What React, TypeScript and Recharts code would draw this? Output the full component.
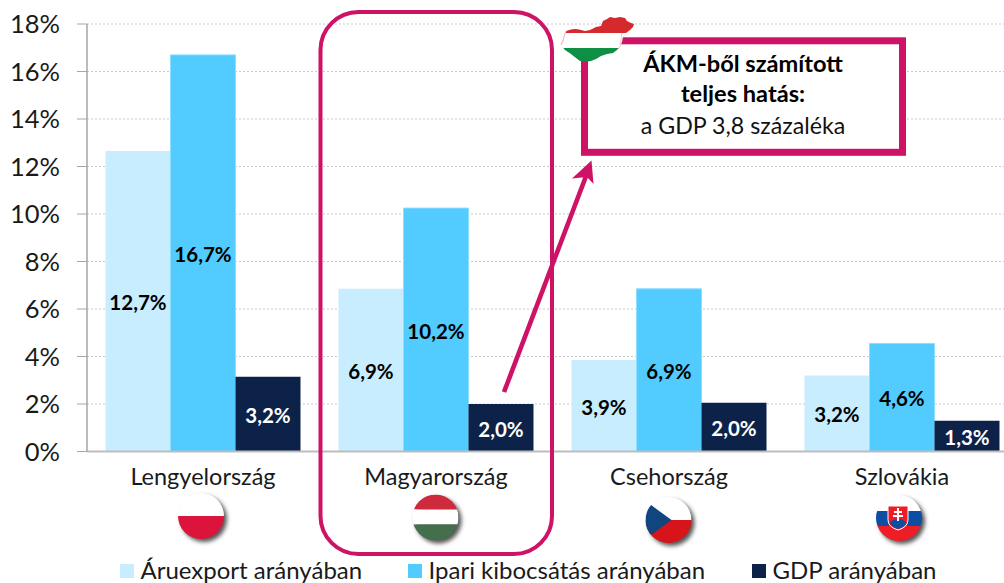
import React from "react";
import { BarChart, Bar, XAxis, YAxis, CartesianGrid, Legend, LabelList } from "recharts";

const countries = ["Lengyelország", "Magyarország", "Csehország", "Szlovákia"];
const exportShare = [12.65, 6.85, 3.85, 3.2];
const outputShare = [16.7, 10.25, 6.85, 4.55];
const gdpShare = [3.15, 2.0, 2.05, 1.3];
const exportLabels = ["12,7%", "6,9%", "3,9%", "3,2%"];
const outputLabels = ["16,7%", "10,2%", "6,9%", "4,6%"];
const gdpLabels = ["3,2%", "2,0%", "2,0%", "1,3%"];
const yTicks = [0, 2, 4, 6, 8, 10, 12, 14, 16, 18];
const seriesNames = ["Áruexport arányában", "Ipari kibocsátás arányában", "GDP arányában"];
const calloutLines = ["ÁKM-ből számított", "teljes hatás:", "a GDP 3,8 százaléka"];

const rows = countries.map((name, i) => ({
  name,
  exportShare: exportShare[i],
  outputShare: outputShare[i],
  gdpShare: gdpShare[i],
  exportLabel: exportLabels[i],
  outputLabel: outputLabels[i],
  gdpLabel: gdpLabels[i],
}));

const FONT = "Lato, Carlito, sans-serif";
const PINK = "#CE1266";
const LIGHT = "#C7EDFF";
const BLUE = "#52CBFF";
const NAVY = "#0D2248";
const legendLeft = [120, 408, 752];

const flagOffset: Record<string, [number, number]> = {
  Lengyelország: [-2.5, 31],
  Magyarország: [-1, 32.5],
  Csehország: [-1, 35],
  Szlovákia: [-3.5, 33],
};

function FlagArt({ name }: { name: string }) {
  const r = 23;
  if (name === "Lengyelország") {
    return (
      <g>
        <rect x={-r} y={-r} width={2 * r} height={r} fill="#FFFFFF" />
        <rect x={-r} y={0} width={2 * r} height={r} fill="#DC143C" />
      </g>
    );
  }
  if (name === "Magyarország") {
    return (
      <g>
        <rect x={-r} y={-r} width={2 * r} height={15} fill="#CD2A3E" />
        <rect x={-r} y={-8} width={2 * r} height={15} fill="#FFFFFF" />
        <rect x={-r} y={7} width={2 * r} height={16} fill="#436F4D" />
      </g>
    );
  }
  if (name === "Csehország") {
    return (
      <g>
        <rect x={-r} y={-r} width={2 * r} height={r} fill="#FFFFFF" />
        <rect x={-r} y={0} width={2 * r} height={r} fill="#D7141A" />
        <polygon points={`${-r},-19 3,0 ${-r},19`} fill="#11457E" />
      </g>
    );
  }
  return (
    <g>
      <rect x={-r} y={-r} width={2 * r} height={16} fill="#FFFFFF" />
      <rect x={-r} y={-7} width={2 * r} height={15} fill="#0B4EA2" />
      <rect x={-r} y={8} width={2 * r} height={15} fill="#EE1C25" />
      <path d="M-11,-12 H9 V2 Q9,9 -1,12 Q-11,9 -11,2 Z" fill="#EE1C25" stroke="#FFFFFF" strokeWidth={1} />
      <path d="M-9,5 Q-6,0 -1,2 Q4,0 7,5 Q5,9 -1,11 Q-7,9 -9,5 Z" fill="#0B4EA2" />
      <path d="M-2,-10 h2 v3 h3 v2 h-3 v2 h4 v2 h-4 v4 h-2 v-4 h-4 v-2 h4 v-2 h-3 v-2 h3 Z" fill="#FFFFFF" />
    </g>
  );
}

function CountryTick(props: any) {
  const { x, y, payload } = props;
  const name: string = payload.value;
  const [dx, dy] = flagOffset[name];
  const id = `clip-${countries.indexOf(name)}`;
  return (
    <g>
      <text x={x - 0.5} y={y + 33.5} textAnchor="middle" fontFamily={FONT} fontSize={23.5} fill="#1a1a1a">
        {name}
      </text>
      <g transform={`translate(${x + dx},${y + 33.5 + dy})`}>
        <defs>
          <clipPath id={id}>
            <circle r={23} />
          </clipPath>
        </defs>
        <circle r={23} cx={0} cy={0} fill="#555" filter="url(#flagShadow)" />
        <g clipPath={`url(#${id})`}>
          <FlagArt name={name} />
        </g>
      </g>
    </g>
  );
}

function LegendRow(props: any) {
  const items = props.payload || [];
  return (
    <div style={{ position: "relative", width: 1004, height: 30 }}>
      {items.map((it: any, i: number) => (
        <div key={it.value} style={{ position: "absolute", left: legendLeft[i], top: 0, height: 30, whiteSpace: "nowrap" }}>
          <span style={{ position: "absolute", left: 0, top: 11, width: 14, height: 14, background: it.color }} />
          <span style={{ position: "absolute", left: 20.5, top: 3, fontFamily: FONT, fontSize: 24, lineHeight: "28px", color: "#1a1a1a" }}>
            {it.value}
          </span>
        </div>
      ))}
    </div>
  );
}

const hungaryOutline = [
  [561, 45], [563, 42], [564, 37], [566, 31], [571, 29.5], [575, 29], [579, 29.5], [585, 31], [590, 30],
  [596, 27], [601, 26], [603, 21], [607, 19], [610, 17], [615, 18], [620, 17], [625, 18], [627, 21],
  [631, 23], [634, 24], [633, 27], [630, 30], [626, 33], [623, 37], [622, 42], [620, 47], [617, 50],
  [613, 53], [607, 54], [601, 56], [596, 59], [591, 61], [585, 62], [580, 61], [576, 58], [571, 54], [565, 50],
];
const hungaryPoints = hungaryOutline.map((p) => p.join(",")).join(" ");

function Overlay() {
  return (
    <svg width={1004} height={583} style={{ position: "absolute", left: 0, top: 0, pointerEvents: "none" }}>
      <defs>
        <clipPath id="huClip">
          <polygon points={hungaryPoints} />
        </clipPath>
      </defs>
      <rect x={320.5} y={12} width={231.5} height={542} rx={38} ry={38} fill="none" stroke={PINK} strokeWidth={4} />
      <line x1={504} y1={392} x2={588} y2={171} stroke={PINK} strokeWidth={4.6} />
      <polygon points="591.5,160.5 593.5,184 587,177 572,178.5" fill={PINK} />
      <rect x={584.5} y={40.8} width={318} height={111.5} fill="#FFFFFF" stroke={PINK} strokeWidth={7} />
      <text x={743} y={71.5} textAnchor="middle" fontFamily={FONT} fontWeight={700} fontSize={23.6} fill="#000">
        {calloutLines[0]}
      </text>
      <text x={743} y={101.5} textAnchor="middle" fontFamily={FONT} fontWeight={700} fontSize={23.6} fill="#000">
        {calloutLines[1]}
      </text>
      <text x={743} y={134} textAnchor="middle" fontFamily={FONT} fontSize={23.2} fill="#111">
        {calloutLines[2]}
      </text>
      <g clipPath="url(#huClip)">
        <rect x={555} y={10} width={90} height={23} fill="#D42A2E" />
        <rect x={555} y={33} width={90} height={15} fill="#FFFFFF" />
        <rect x={555} y={48} width={90} height={20} fill="#0E8F46" />
      </g>
      <polyline points={hungaryOutline.slice(0, 4).concat([[561, 45]]).map((p) => p.join(",")).join(" ")} fill="none" stroke="#F2B8C6" strokeWidth={0.8} />
      <polyline points="622,33 620,47 617,50" fill="none" stroke="#F2B8C6" strokeWidth={0.8} />
    </svg>
  );
}

export default function App() {
  return (
    <div style={{ position: "absolute", left: 0, top: 0, width: 1004, height: 583, overflow: "hidden", background: "#FFFFFF" }}>
      <BarChart
        width={1019}
        height={583}
        data={rows}
        margin={{ top: 24, right: 0, bottom: 0, left: 0 }}
        barCategoryGap={18.5}
        barGap={0}
      >
        <defs>
          <filter id="flagShadow" x="-30%" y="-30%" width="170%" height="170%">
            <feGaussianBlur in="SourceGraphic" stdDeviation="2" />
            <feOffset dx="3" dy="3" />
          </filter>
        </defs>
        <CartesianGrid vertical={false} stroke="#C9C9C9" strokeDasharray="2 2" />
        <XAxis
          dataKey="name"
          axisLine={{ stroke: "#BDBDBD", strokeWidth: 2 }}
          tickLine={false}
          tickSize={0}
          tickMargin={0}
          interval={0}
          height={101.5}
          tick={CountryTick}
        />
        <YAxis
          width={87}
          domain={[0, 18]}
          ticks={yTicks}
          interval={0}
          tickFormatter={(v: number) => `${v}%`}
          axisLine={{ stroke: "#A6A6A6", strokeWidth: 1.5 }}
          tickLine={{ stroke: "#A6A6A6", strokeWidth: 1 }}
          tickSize={10}
          tickMargin={17}
          tick={{ fontFamily: FONT, fontSize: 25.5, fill: "#1a1a1a" }}
        />
        <Legend verticalAlign="bottom" itemSorter={null} content={LegendRow} wrapperStyle={{ left: 0, bottom: 0, width: 1004, height: 30 }} />
        <Bar dataKey="exportShare" name={seriesNames[0]} fill={LIGHT} isAnimationActive={false}>
          <LabelList dataKey="exportLabel" position="center" dy={1.5} fontFamily={FONT} fontWeight={700} fontSize={20.5} fill="#000" />
        </Bar>
        <Bar dataKey="outputShare" name={seriesNames[1]} fill={BLUE} stroke="#8FDDFF" strokeWidth={1} isAnimationActive={false}>
          <LabelList dataKey="outputLabel" position="center" dy={1.5} fontFamily={FONT} fontWeight={700} fontSize={20.5} fill="#000" />
        </Bar>
        <Bar dataKey="gdpShare" name={seriesNames[2]} fill={NAVY} isAnimationActive={false}>
          <LabelList dataKey="gdpLabel" position="center" dy={1.5} fontFamily={FONT} fontWeight={700} fontSize={20.5} fill="#FFFFFF" />
        </Bar>
      </BarChart>
      <Overlay />
    </div>
  );
}
